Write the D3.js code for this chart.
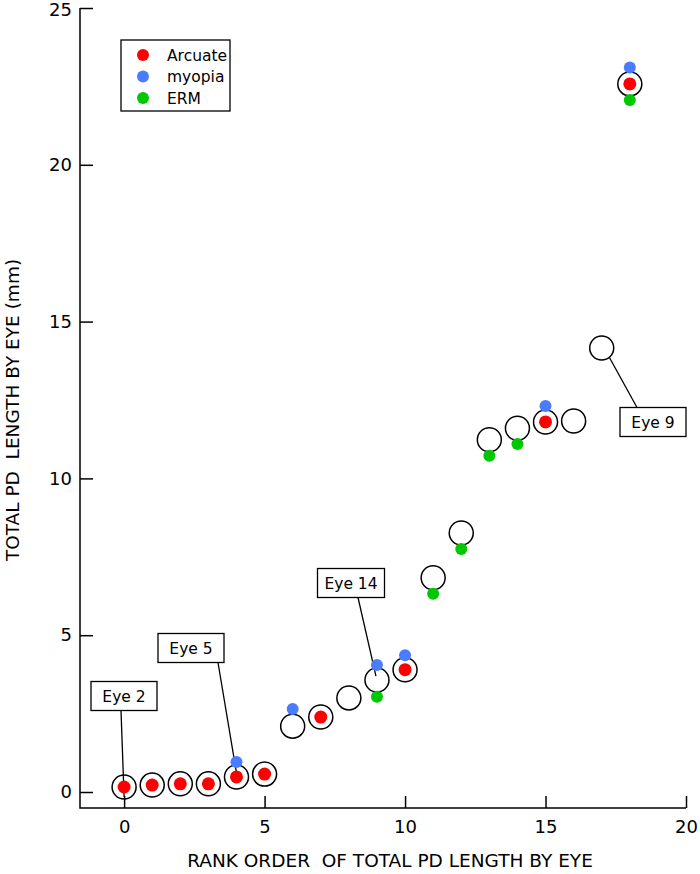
<!DOCTYPE html>
<html>
<head>
<meta charset="utf-8">
<script src="https://cdn.jsdelivr.net/npm/d3@7"></script>
<style>
  body { margin: 0; background: #fff; }
  text { font-family: "DejaVu Sans", sans-serif; fill: #000; }
</style>
</head>
<body>
<div id="chart"></div>
<script>
// rank order and total PD length (mm) for each eye
const ranks = [0, 1, 2, 3, 4, 5, 6, 7, 8, 9, 10, 11, 12, 13, 14, 15, 16, 17, 18];
const totals = [0.16, 0.22, 0.26, 0.26, 0.48, 0.57, 2.1, 2.39, 3.0, 3.57, 3.9, 6.83, 8.26, 11.23, 11.6, 11.8, 11.83, 14.16, 22.58];

// eyes tagged in each category
const arcuateRanks = [0, 1, 2, 3, 4, 5, 7, 10, 15, 18];
const myopiaRanks = [4, 6, 9, 10, 15, 18];
const myopiaValues = [0.96, 2.65, 4.05, 4.36, 12.31, 23.1];
const ermRanks = [9, 11, 12, 13, 14, 18];
const ermValues = [3.04, 6.32, 7.75, 10.72, 11.1, 22.07];

// labelled eyes
const noteTexts = ['Eye 2', 'Eye 5', 'Eye 14', 'Eye 9'];
const noteRanks = [0, 4, 9, 17];

const legendNames = ['Arcuate', 'myopia', 'ERM'];
const legendColors = ['#ff0000', '#4a7cff', '#00c800'];

const xTicks = [0, 5, 10, 15, 20];
const yTicks = [0, 5, 10, 15, 20, 25];

const width = 700, height = 874;
const svg = d3.select('#chart').append('svg')
    .attr('width', width)
    .attr('height', height);

const x = d3.scaleLinear().domain([-1.57, 20]).range([80, 686]);
const y = d3.scaleLinear().domain([0, 25]).range([792, 8]);
const yBottom = 808;

// axes - ticks point inward
const gx = svg.append('g').attr('transform', `translate(0,${yBottom})`)
    .call(d3.axisBottom(x).tickValues(xTicks).tickSizeInner(-12).tickSizeOuter(0).tickPadding(12).tickFormat(d3.format('d')));
const gy = svg.append('g').attr('transform', 'translate(80,0)')
    .call(d3.axisLeft(y).tickValues(yTicks).tickSizeInner(-13).tickSizeOuter(0).tickPadding(8).tickFormat(d3.format('d')));
gx.select('.domain').remove();
gy.select('.domain').remove();
[gx, gy].forEach(g => {
    g.selectAll('line').attr('stroke', '#000').attr('stroke-width', 1.5);
    g.selectAll('text').style('font-size', '18px').style('font-family', '"DejaVu Sans", sans-serif');
});
// keep the top label inside the picture
gy.selectAll('text').filter(d => d === 25).attr('dy', '0.42em');
svg.append('path')
    .attr('d', `M80,8V${yBottom}H686`)
    .attr('fill', 'none').attr('stroke', '#000').attr('stroke-width', 1.5);

// axis titles
svg.append('text')
    .attr('x', 390).attr('y', 867)
    .attr('text-anchor', 'middle')
    .style('font-size', '18.5px').style('white-space', 'pre')
    .text('RANK ORDER  OF TOTAL PD LENGTH BY EYE');
svg.append('text')
    .attr('transform', 'translate(19,410) rotate(-90)')
    .attr('text-anchor', 'middle')
    .style('font-size', '18.5px').style('white-space', 'pre')
    .text('TOTAL PD  LENGTH BY EYE (mm)');

// annotation boxes + leader lines
const noteBoxes = [
    { cx: 124, cy: 696, lx: 121, tx: 0, ty: 10 },
    { cx: 191, cy: 648, lx: 218, tx: 0, ty: -4 },
    { cx: 351, cy: 583, lx: 358, tx: -1, ty: -4 },
    { cx: 653, cy: 422, lx: 637, tx: 8, ty: 10, top: true }
];
const notes = svg.append('g');
noteTexts.forEach((t, i) => {
    const b = noteBoxes[i];
    const w = t.length > 5 ? 67 : 66, h = 29;
    const px = x(noteRanks[i]) + b.tx;
    const py = y(totals[ranks.indexOf(noteRanks[i])]) + b.ty;
    const sy = b.top ? b.cy - h / 2 : b.cy + h / 2;
    notes.append('line')
        .attr('x1', b.lx).attr('y1', sy).attr('x2', px).attr('y2', py)
        .attr('stroke', '#000').attr('stroke-width', 1.3);
    notes.append('rect')
        .attr('x', b.cx - w / 2).attr('y', b.cy - h / 2)
        .attr('width', w).attr('height', h)
        .attr('fill', '#fff').attr('stroke', '#000').attr('stroke-width', 1.3);
    notes.append('text')
        .attr('x', b.cx).attr('y', b.cy + 5.5)
        .attr('text-anchor', 'middle')
        .style('font-size', '15.5px')
        .text(t);
});

// open circles for every eye
svg.append('g').selectAll('circle')
    .data(ranks)
    .join('circle')
    .attr('cx', d => x(d))
    .attr('cy', (d, i) => y(totals[i]))
    .attr('r', 12)
    .attr('fill', 'none')
    .attr('stroke', '#000')
    .attr('stroke-width', 1.5);

// arcuate dots
svg.append('g').selectAll('circle')
    .data(arcuateRanks)
    .join('circle')
    .attr('cx', d => x(d))
    .attr('cy', d => y(totals[ranks.indexOf(d)]))
    .attr('r', 6.5)
    .attr('fill', legendColors[0]);

// myopia dots
svg.append('g').selectAll('circle')
    .data(myopiaRanks)
    .join('circle')
    .attr('cx', d => x(d))
    .attr('cy', (d, i) => y(myopiaValues[i]))
    .attr('r', 6)
    .attr('fill', legendColors[1]);

// ERM dots
svg.append('g').selectAll('circle')
    .data(ermRanks)
    .join('circle')
    .attr('cx', d => x(d))
    .attr('cy', (d, i) => y(ermValues[i]))
    .attr('r', 6)
    .attr('fill', legendColors[2]);

// legend
const legend = svg.append('g');
legend.append('rect')
    .attr('x', 121).attr('y', 40).attr('width', 109).attr('height', 71)
    .attr('fill', '#fff').attr('stroke', '#000').attr('stroke-width', 1.3);
legendNames.forEach((n, i) => {
    const ly = 55 + i * 21.5;
    legend.append('circle').attr('cx', 143).attr('cy', ly).attr('r', 6).attr('fill', legendColors[i]);
    legend.append('text').attr('x', 167).attr('y', ly + 5.5).style('font-size', '15.5px').text(n);
});
</script>
</body>
</html>
